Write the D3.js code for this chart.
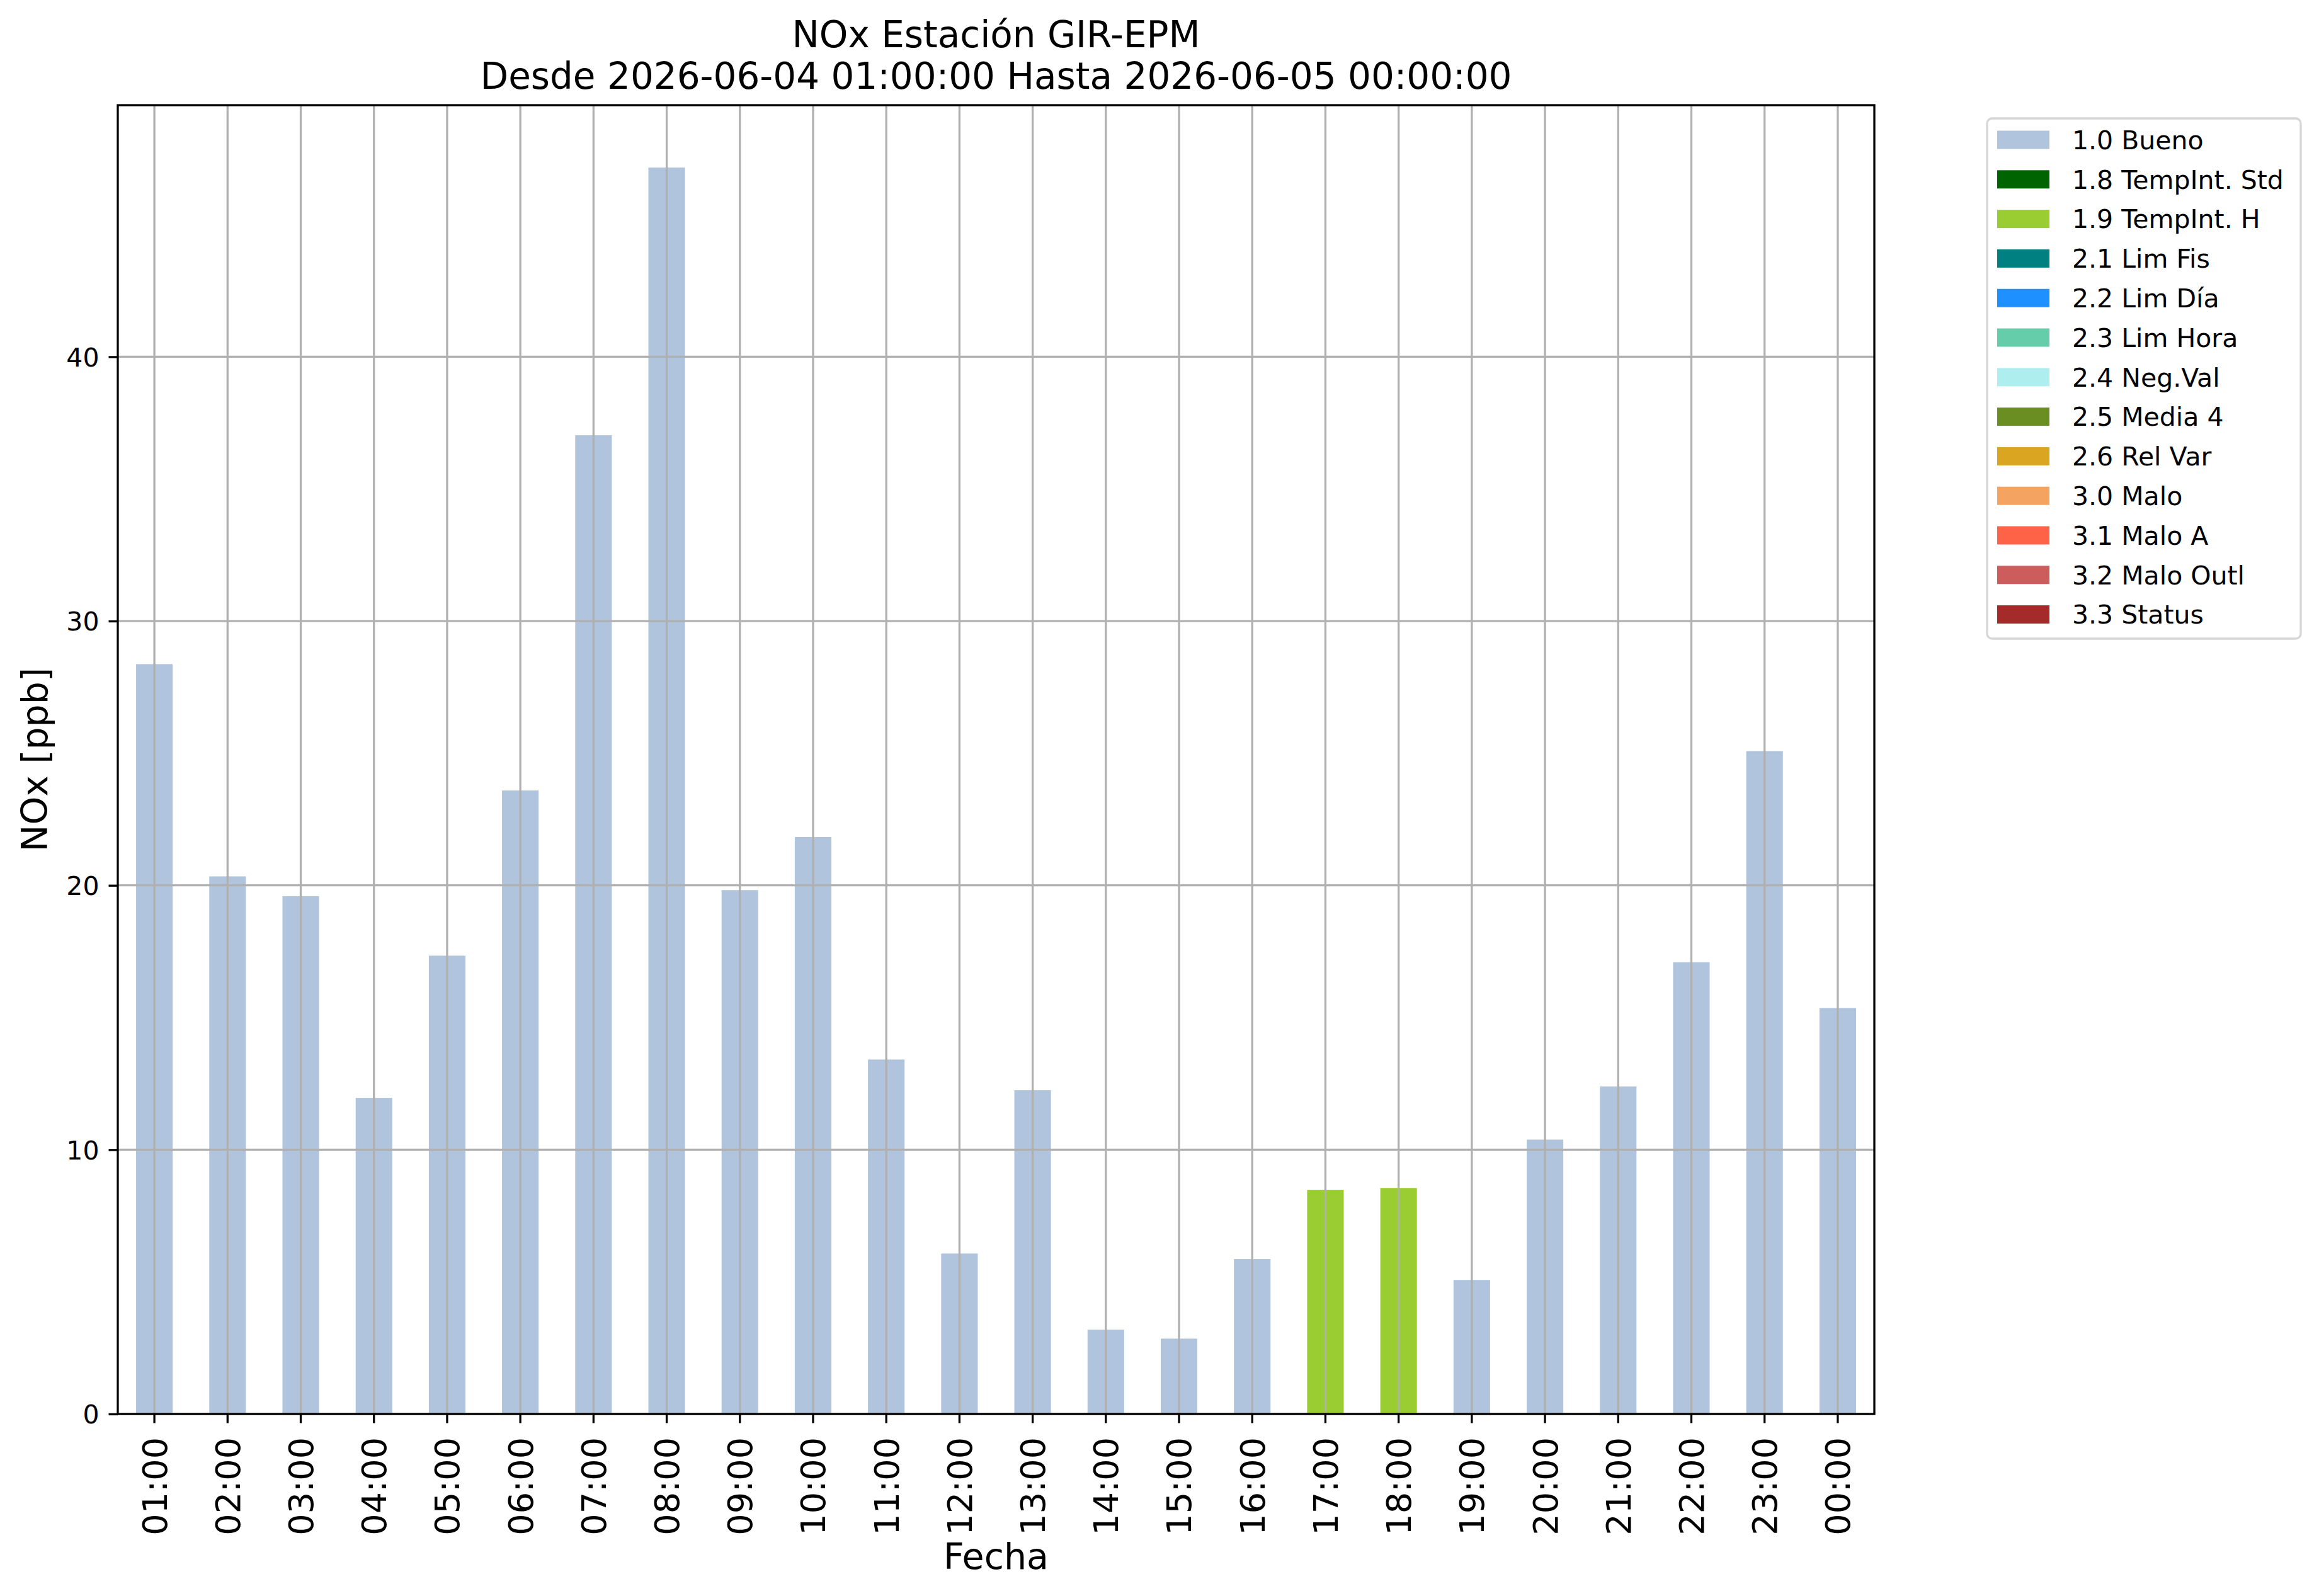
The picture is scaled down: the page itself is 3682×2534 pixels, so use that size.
<!DOCTYPE html>
<html>
<head>
<meta charset="utf-8">
<script src="https://cdn.jsdelivr.net/npm/d3@7"></script>
<style>
  html, body { margin: 0; padding: 0; background: #ffffff; }
  svg { display: block; font-family: "DejaVu Sans", sans-serif; }
</style>
</head>
<body>
<div id="nox-chart"></div>
<script>
const hours = ["01:00", "02:00", "03:00", "04:00", "05:00", "06:00", "07:00", "08:00",
               "09:00", "10:00", "11:00", "12:00", "13:00", "14:00", "15:00", "16:00",
               "17:00", "18:00", "19:00", "20:00", "21:00", "22:00", "23:00", "00:00"];

const noxValues = [28.37, 20.34, 19.59, 11.96, 17.34, 23.59, 37.03, 47.16,
                   19.82, 21.83, 13.41, 6.07, 12.25, 3.19, 2.85, 5.86,
                   8.48, 8.55, 5.07, 10.38, 12.39, 17.09, 25.08, 15.36];

const qualityFlags = ["1.0", "1.0", "1.0", "1.0", "1.0", "1.0", "1.0", "1.0",
                      "1.0", "1.0", "1.0", "1.0", "1.0", "1.0", "1.0", "1.0",
                      "1.9", "1.9", "1.0", "1.0", "1.0", "1.0", "1.0", "1.0"];

const flagCodes = ["1.0", "1.8", "1.9", "2.1", "2.2", "2.3", "2.4", "2.5", "2.6", "3.0", "3.1", "3.2", "3.3"];
const flagNames = ["1.0 Bueno", "1.8 TempInt. Std", "1.9 TempInt. H", "2.1 Lim Fis", "2.2 Lim Día",
                   "2.3 Lim Hora", "2.4 Neg.Val", "2.5 Media 4", "2.6 Rel Var", "3.0 Malo",
                   "3.1 Malo A", "3.2 Malo Outl", "3.3 Status"];
const flagColors = ["#b0c4de", "#006400", "#9acd32", "#008080", "#1e90ff", "#66cdaa", "#afeeee",
                    "#6b8e23", "#daa520", "#f4a460", "#ff6347", "#cd5c5c", "#a52a2a"];

const yTicks = [0, 10, 20, 30, 40];

const titleLines = ["NOx Estación GIR-EPM", "Desde 2026-06-04 01:00:00 Hasta 2026-06-05 00:00:00"];

const createNoxChart = () => {
    const W = 3682, H = 2534;
    const margin = { top: 167, right: 706, bottom: 289, left: 187 };
    const width = W - margin.left - margin.right;
    const height = H - margin.top - margin.bottom;

    const svg = d3.select("#nox-chart")
        .append("svg")
        .attr("width", W)
        .attr("height", H);

    svg.append("rect").attr("width", W).attr("height", H).attr("fill", "#ffffff");

    const g = svg.append("g")
        .attr("transform", `translate(${margin.left},${margin.top})`);

    const rows = hours.map((h, i) => ({ hour: h, value: noxValues[i], flag: qualityFlags[i] }));

    const x = d3.scaleBand()
        .domain(hours)
        .range([0, width])
        .paddingInner(0.5)
        .paddingOuter(0.25);

    const y = d3.scaleLinear()
        .domain([0, d3.max(noxValues) * 1.05])
        .range([height, 0]);

    const color = d3.scaleOrdinal()
        .domain(flagCodes)
        .range(flagColors);

    // bars
    g.selectAll(".bar")
        .data(rows)
        .enter().append("rect")
        .attr("class", "bar")
        .attr("x", d => x(d.hour))
        .attr("y", d => y(d.value))
        .attr("width", x.bandwidth())
        .attr("height", d => height - y(d.value))
        .attr("fill", d => color(d.flag));

    // grid on top of bars like matplotlib
    const gridColor = "#b0b0b0";
    g.append("g")
        .selectAll("line")
        .data(hours)
        .enter().append("line")
        .attr("x1", d => x(d) + x.bandwidth() / 2)
        .attr("x2", d => x(d) + x.bandwidth() / 2)
        .attr("y1", 0)
        .attr("y2", height)
        .attr("stroke", gridColor)
        .attr("stroke-width", 3.3);

    g.append("g")
        .selectAll("line")
        .data(yTicks)
        .enter().append("line")
        .attr("x1", 0)
        .attr("x2", width)
        .attr("y1", d => y(d))
        .attr("y2", d => y(d))
        .attr("stroke", gridColor)
        .attr("stroke-width", 3.3);

    // axes
    const xAxis = g.append("g")
        .attr("transform", `translate(0,${height})`)
        .call(d3.axisBottom(x).tickSize(14.5).tickSizeOuter(0));
    xAxis.select(".domain").remove();
    xAxis.selectAll("line").attr("stroke", "#000").attr("stroke-width", 3.3);
    xAxis.selectAll("text")
        .attr("transform", "rotate(-90)")
        .attr("text-anchor", "end")
        .attr("x", -37)
        .attr("y", 0)
        .attr("dy", "0.36em")
        .attr("fill", "#000")
        .style("font-size", "54px")
        .style("font-family", "DejaVu Sans");

    const yAxis = g.append("g")
        .call(d3.axisLeft(y).tickValues(yTicks).tickFormat(d3.format("d")).tickSize(14.5).tickPadding(15));
    yAxis.select(".domain").remove();
    yAxis.selectAll("line").attr("stroke", "#000").attr("stroke-width", 3.3);
    yAxis.selectAll("text")
        .attr("fill", "#000")
        .attr("dy", "0.36em")
        .style("font-size", "41px")
        .style("font-family", "DejaVu Sans");

    // frame
    g.append("rect")
        .attr("width", width)
        .attr("height", height)
        .attr("fill", "none")
        .attr("stroke", "#000")
        .attr("stroke-width", 3.3);

    // labels
    svg.append("text")
        .attr("x", margin.left + width / 2)
        .attr("y", 2491)
        .attr("text-anchor", "middle")
        .style("font-size", "57px")
        .text("Fecha");

    svg.append("text")
        .attr("transform", `translate(75,${margin.top + height / 2}) rotate(-90)`)
        .attr("text-anchor", "middle")
        .style("font-size", "57px")
        .text("NOx [ppb]");

    svg.selectAll(".title")
        .data(titleLines)
        .enter().append("text")
        .attr("class", "title")
        .attr("x", margin.left + width / 2)
        .attr("y", (d, i) => 75 + i * 66)
        .attr("text-anchor", "middle")
        .style("font-size", "58px")
        .text(d => d);

    // legend
    const legend = svg.append("g")
        .attr("class", "legend")
        .attr("transform", "translate(3155,188)");

    legend.append("rect")
        .attr("width", 498)
        .attr("height", 826)
        .attr("rx", 8)
        .attr("fill", "#ffffff")
        .attr("stroke", "#d6d6d6")
        .attr("stroke-width", 3.3);

    const item = legend.selectAll(".item")
        .data(flagCodes)
        .enter().append("g")
        .attr("class", "item")
        .attr("transform", (d, i) => `translate(0, ${34 + i * 62.8})`);

    item.append("rect")
        .attr("x", 16)
        .attr("y", -14.5)
        .attr("width", 83)
        .attr("height", 29)
        .attr("fill", d => color(d));

    item.append("text")
        .attr("x", 135)
        .attr("dy", "0.36em")
        .style("font-size", "41px")
        .text((d, i) => flagNames[i]);
};

createNoxChart();
</script>
</body>
</html>
